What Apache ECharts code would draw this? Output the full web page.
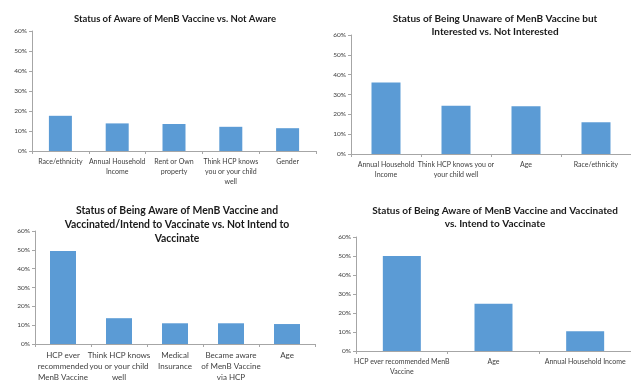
<!DOCTYPE html>
<html><head><meta charset="utf-8">
<script src="https://cdn.jsdelivr.net/npm/echarts@6/dist/echarts.min.js"></script>
<style>html,body{margin:0;padding:0;background:#fff}#c{width:631px;height:383px}</style>
</head><body><div id="c"></div>
<script>
const yTicks = ['0%','10%','20%','30%','40%','50%','60%'];

const titles = [
  'Status of Aware of MenB Vaccine vs. Not Aware',
  'Status of Being Unaware of MenB Vaccine but\nInterested vs. Not Interested',
  'Status of Being Aware of MenB Vaccine and\nVaccinated/Intend to Vaccinate vs. Not Intend to\nVaccinate',
  'Status of Being Aware of MenB Vaccine and Vaccinated\nvs. Intend to Vaccinate'
];

const cats1 = ['Race/ethnicity','Annual Household\nIncome','Rent or Own\nproperty','Think HCP knows\nyou or your child\nwell','Gender'];
const vals1 = [17.6, 13.8, 13.5, 12.1, 11.4];

const cats2 = ['Annual Household\nIncome','Think HCP knows you or\nyour child well','Age','Race/ethnicity'];
const vals2 = [36.0, 24.3, 24.1, 16.0];

const cats3 = ['HCP ever\nrecommended\nMenB Vaccine','Think HCP knows\nyou or your child\nwell','Medical\nInsurance','Became aware\nof MenB Vaccine\nvia HCP','Age'];
const vals3 = [49.4, 13.7, 11.0, 11.0, 10.6];

const cats4 = ['HCP ever recommended MenB\nVaccine','Age','Annual Household Income'];
const vals4 = [50.0, 24.9, 10.4];

const cats = [cats1, cats2, cats3, cats4];
const vals = [vals1, vals2, vals3, vals4];

const grids = [
  {left: 32, top: 31, width: 284, height: 120},
  {left: 351, top: 35, width: 287, height: 119},
  {left: 35, top: 231, width: 280, height: 116},
  {left: 356, top: 237, width: 279, height: 114}
];
const titlePos = [
  {x: 170, y: 7}, {x: 490, y: 7}, {x: 172, y: 199}, {x: 490, y: 199}
];
const titleSize = [9.5, 10, 10.4, 10];
const titleLH = [13, 13, 14, 13];
const barW = [23, 29, 26, 38];
const xFont = [7, 7, 8, 7];
const FONT = 'Lato';
const axisColor = '#a6a6a6';
const textColor = '#404040';

const option = {
  animation: false,
  backgroundColor: '#fff',
  title: titles.map((t, i) => ({
    text: t, left: titlePos[i].x, top: titlePos[i].y, textAlign: 'center',
    textStyle: {fontFamily: FONT, fontWeight: 'bold', fontSize: titleSize[i], lineHeight: titleLH[i], color: '#1a1a1a'}
  })),
  grid: grids.map(g => Object.assign({containLabel: false}, g)),
  xAxis: cats.map((c, i) => ({
    type: 'category', gridIndex: i, data: c,
    axisLine: {lineStyle: {color: axisColor, width: 1}},
    axisTick: {show: true, length: 3, lineStyle: {color: axisColor}},
    axisLabel: {fontFamily: FONT, fontSize: xFont[i], color: textColor, margin: 6, lineHeight: xFont[i] + 3, interval: 0}
  })),
  yAxis: cats.map((c, i) => ({
    type: 'value', gridIndex: i, min: 0, max: 60, interval: 10,
    axisLine: {show: true, lineStyle: {color: axisColor, width: 1}},
    axisTick: {show: true, length: 3, lineStyle: {color: axisColor}},
    splitLine: {show: false},
    axisLabel: {fontFamily: FONT, fontSize: 6.5, color: textColor, margin: 5,
      formatter: v => yTicks[Math.round(v / 10)]}
  })),
  series: vals.map((v, i) => ({
    type: 'bar', xAxisIndex: i, yAxisIndex: i, data: v, barWidth: barW[i],
    itemStyle: {color: '#5b9bd5'}
  }))
};
echarts.init(document.getElementById('c'), null, {renderer: 'canvas'}).setOption(option);
</script></body></html>
